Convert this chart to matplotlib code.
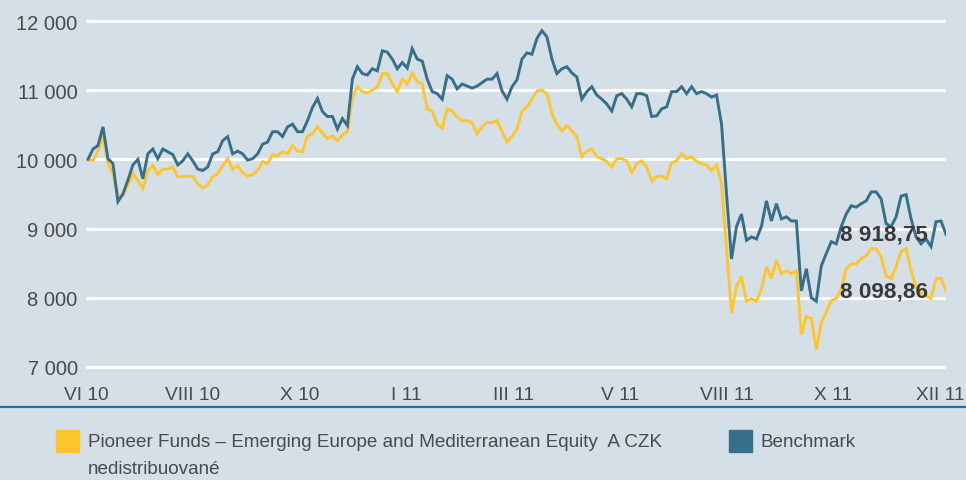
import numpy as np
import matplotlib.pyplot as plt
from matplotlib.lines import Line2D
from matplotlib.patches import Rectangle

# data (roughly every trading week)
fund = [10000, 9980, 10120, 10330, 9950, 9790, 9480, 9480, 9630, 9800,
        9690, 9580, 9840, 9910, 9780, 9860, 9860, 9890, 9750, 9750,
        9760, 9750, 9650, 9590, 9630, 9750, 9790, 9910, 10010, 9860,
        9910, 9810, 9760, 9780, 9840, 9970, 9940, 10070, 10050, 10110,
        10080, 10200, 10120, 10110, 10340, 10370, 10470, 10380, 10300, 10340,
        10270, 10350, 10400, 10900, 11050, 10980, 10960, 11000, 11050, 11240,
        11240, 11090, 10980, 11160, 11090, 11250, 11120, 11090, 10730, 10700,
        10510, 10450, 10730, 10700, 10610, 10560, 10560, 10530, 10370, 10470,
        10540, 10530, 10560, 10400, 10250, 10330, 10440, 10700, 10760, 10870,
        10990, 11000, 10950, 10660, 10510, 10410, 10490, 10410, 10330, 10040,
        10120, 10150, 10040, 10010, 9970, 9890, 10010, 10010, 9980, 9810,
        9940, 9980, 9890, 9690, 9750, 9760, 9720, 9950, 9980, 10080,
        10010, 10040, 9970, 9940, 9920, 9840, 9920, 9650, 8710, 7780,
        8160, 8310, 7950, 7990, 7950, 8130, 8450, 8280, 8540, 8350,
        8390, 8350, 8390, 7470, 7730, 7700, 7250, 7640, 7790, 7960,
        7990, 8130, 8420, 8490, 8490, 8570, 8610, 8710, 8710, 8590,
        8310, 8280, 8450, 8670, 8710, 8390, 8160, 8060, 8030, 7990,
        8280, 8280, 8098.86]

benchmark = [10000, 10150, 10200, 10470, 10010, 9940, 9390, 9500, 9700, 9920,
             10000, 9720, 10080, 10150, 10010, 10150, 10110, 10070, 9920, 9980,
             10080, 9980, 9860, 9840, 9890, 10080, 10110, 10270, 10330, 10080,
             10120, 10080, 9990, 10010, 10080, 10220, 10250, 10400, 10400, 10330,
             10470, 10510, 10400, 10400, 10560, 10750, 10880, 10690, 10620, 10620,
             10440, 10590, 10490, 11160, 11340, 11240, 11220, 11310, 11280, 11570,
             11550, 11450, 11310, 11400, 11320, 11600, 11450, 11420, 11160, 10980,
             10950, 10870, 11210, 11160, 11020, 11090, 11060, 11030, 11060, 11110,
             11160, 11160, 11240, 10990, 10870, 11050, 11150, 11450, 11540, 11520,
             11750, 11860, 11770, 11450, 11240, 11310, 11340, 11250, 11190, 10870,
             10980, 11050, 10930, 10870, 10800, 10700, 10920, 10950, 10870, 10760,
             10950, 10950, 10920, 10620, 10630, 10730, 10760, 10980, 10980, 11050,
             10950, 11050, 10950, 10980, 10950, 10900, 10930, 10510, 9500, 8560,
             9030, 9210, 8830, 8880, 8850, 9030, 9400, 9110, 9360, 9140,
             9170, 9110, 9110, 8100, 8420, 8000, 7950, 8460, 8640, 8810,
             8780, 9030, 9210, 9330, 9310, 9360, 9400, 9530, 9530, 9430,
             9070, 9030, 9170, 9470, 9490, 9140, 8880, 8780, 8850, 8740,
             9100, 9110, 8918.75]

month_labels = ["VI 10", "VIII 10", "X 10", "I 11", "III 11", "V 11",
                "VIII 11", "X 11", "XII 11"]
y_ticks = [7000, 8000, 9000, 10000, 11000, 12000]

fund_name = "Pioneer Funds \u2013 Emerging Europe and Mediterranean Equity  A CZK\nnedistribuovan\u00e9"
bench_name = "Benchmark"

bg = "#d5dfe7"
yellow = "#fec62d"
blue = "#376f88"
text_col = "#4a4a4a"

plt.rcParams['font.family'] = ['Liberation Sans', 'DejaVu Sans']

fig = plt.figure(figsize=(9.66, 4.81), dpi=100, facecolor=bg)
ax = fig.add_axes([86 / 966, 0.2206, 860 / 966, 0.748])
ax.set_facecolor(bg)

n = len(fund)
xs = np.arange(n)
ax.plot(xs, fund, color=yellow, lw=2.1, solid_joinstyle='miter', zorder=3)
ax.plot(xs, benchmark, color=blue, lw=2.1, solid_joinstyle='miter', zorder=4)

ax.set_xlim(0, n - 1)
ax.set_ylim(6900, 12100)
ax.set_yticks(y_ticks)
ax.set_yticklabels([f"{v:,}".replace(",", " ") for v in y_ticks])
ax.grid(axis='y', color='white', lw=2.2, zorder=1)
ax.set_axisbelow(True)
ax.set_xticks(np.linspace(-0.4, n - 2.2, len(month_labels)))
ax.set_xticklabels(month_labels)
ax.tick_params(axis='both', length=0, colors=text_col)
ax.tick_params(axis='y', pad=6, labelsize=14.5)
ax.tick_params(axis='x', pad=9, labelsize=13.8)
for s in ax.spines.values():
    s.set_visible(False)

# end value labels
for vals in (benchmark, fund):
    ax.annotate(f"{vals[-1]:,.2f}".replace(",", " ").replace(".", ","),
                xy=(n - 1, vals[-1]), xytext=(-18, 0), textcoords='offset pixels',
                ha='right', va='center', fontsize=16.2, fontweight='bold',
                color='#3a3a3a', zorder=6)

# separator line under the axis labels
fig.add_artist(Line2D([0, 1], [1 - 408 / 481] * 2, color='#2a6ea6', lw=1.6))

# legend
fig.add_artist(Rectangle((56 / 966, 1 - 453 / 481), 23 / 966, 22 / 481,
                         color=yellow, transform=fig.transFigure))
fig.add_artist(Rectangle((729 / 966, 1 - 453 / 481), 23 / 966, 22 / 481,
                         color=blue, transform=fig.transFigure))
fig.text(88 / 966, 1 - 443 / 481, fund_name.split("\n")[0], ha='left', va='center',
         fontsize=13.6, color=text_col)
fig.text(88 / 966, 1 - 470 / 481, fund_name.split("\n")[1], ha='left', va='center',
         fontsize=13.6, color=text_col)
fig.text(761 / 966, 1 - 443 / 481, bench_name, ha='left', va='center', fontsize=13.6,
         color=text_col)

fig.savefig("out.png", dpi=100, facecolor=bg)
